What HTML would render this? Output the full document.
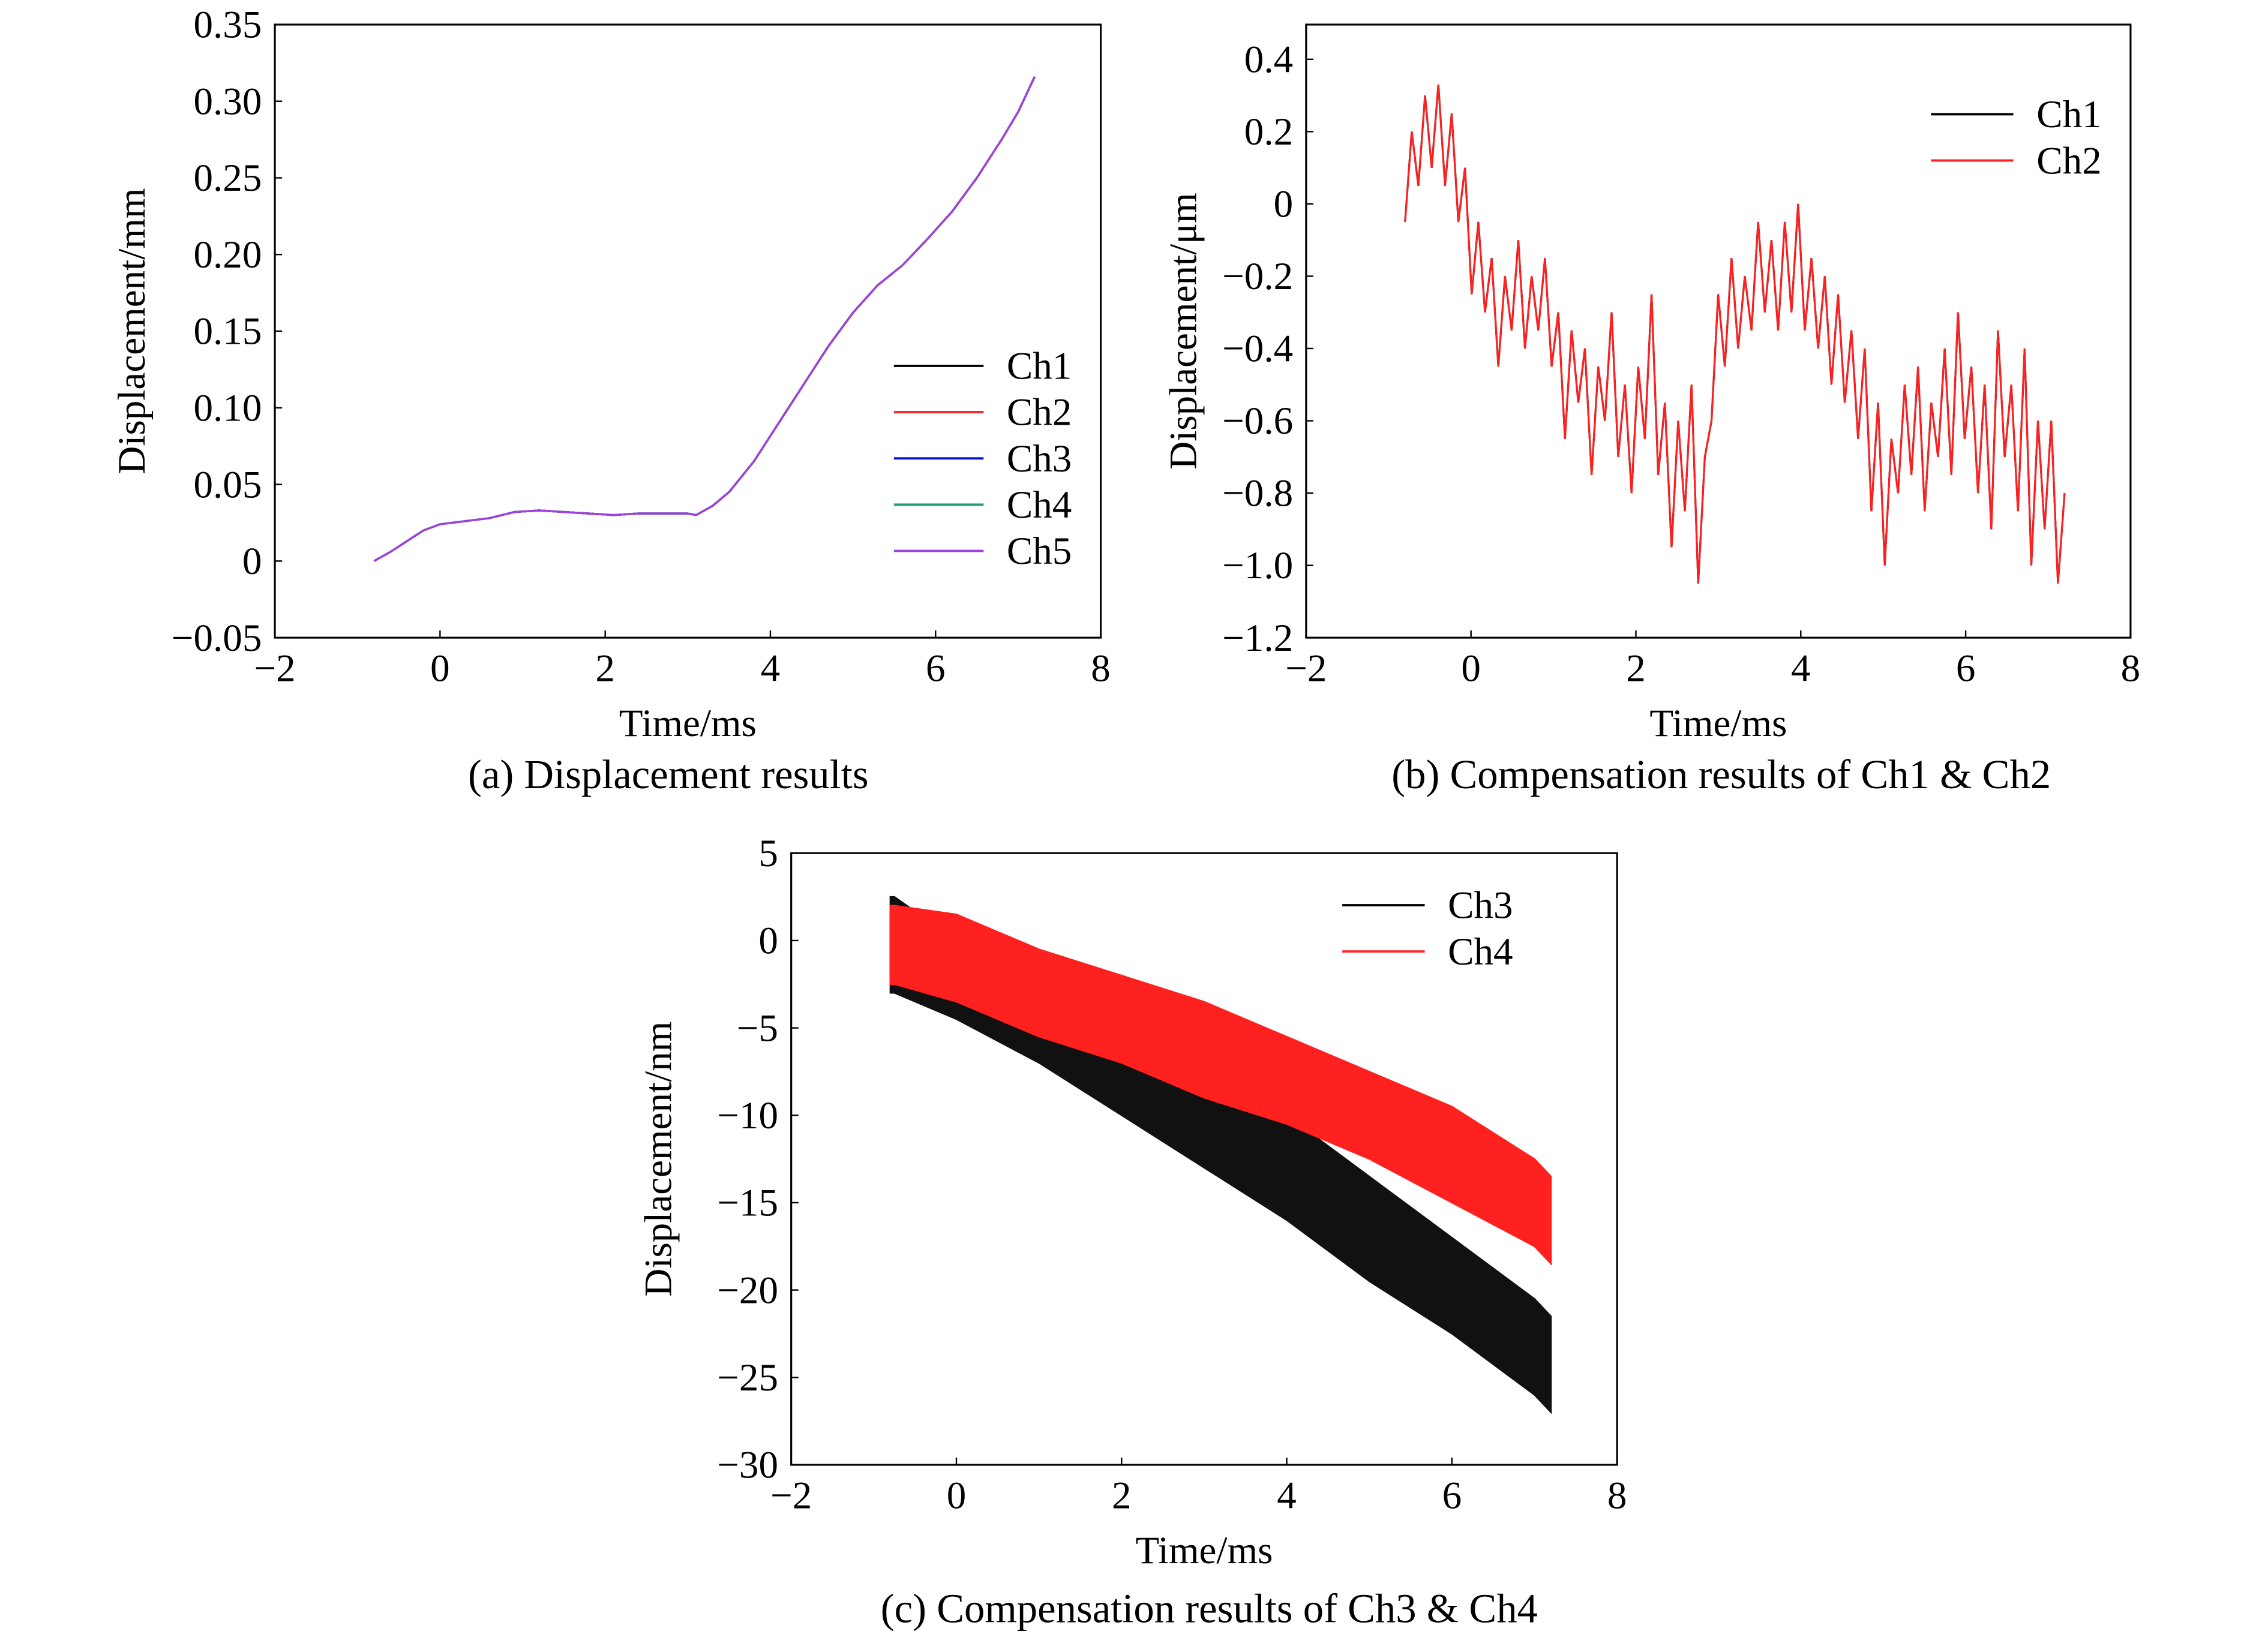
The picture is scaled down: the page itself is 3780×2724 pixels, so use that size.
<!DOCTYPE html>
<html><head><meta charset="utf-8"><style>
html,body{margin:0;padding:0;background:#fff;}
svg{display:block;font-family:"Liberation Serif",serif;}
</style></head><body>
<svg id="fig" width="3780" height="2724" viewBox="0 0 1568 1130" xmlns="http://www.w3.org/2000/svg"></svg>
<script>
// ---------- Panel (a) data ----------
const aTimes = [-0.8,-0.6,-0.4,-0.2,0,0.3,0.6,0.9,1.2,1.5,1.8,2.1,2.4,2.7,3.0,3.1,3.3,3.5,3.8,4.1,4.4,4.7,5.0,5.3,5.6,5.9,6.2,6.5,6.8,7.0,7.2];
const aValues = [0,0.006,0.013,0.02,0.024,0.026,0.028,0.032,0.033,0.032,0.031,0.030,0.031,0.031,0.031,0.030,0.036,0.045,0.065,0.09,0.115,0.14,0.162,0.18,0.193,0.21,0.228,0.25,0.275,0.293,0.316];
const aYTicks = [0.35,0.30,0.25,0.20,0.15,0.10,0.05,0,-0.05];
const aYLabels = ["0.35","0.30","0.25","0.20","0.15","0.10","0.05","0","\u22120.05"];
const xTicks = [-2,0,2,4,6,8];
const xLabels = ["\u22122","0","2","4","6","8"];
const aLegend = ["Ch1","Ch2","Ch3","Ch4","Ch5"];
const aColors = ["#000","#ff2020","#1010e0","#20a070","#a040e0"];
// ---------- Panel (b) data ----------
const bT0 = -0.8, bT1 = 7.2;
const bValues = [-0.05,0.2,0.05,0.3,0.1,0.33,0.05,0.25,-0.05,0.1,
-0.25,-0.05,-0.3,-0.15,-0.45,-0.2,-0.35,-0.1,-0.4,-0.2,-0.35,-0.15,
-0.45,-0.3,-0.65,-0.35,-0.55,-0.4,-0.75,-0.45,-0.6,-0.3,-0.7,-0.5,
-0.8,-0.45,-0.65,-0.25,-0.75,-0.55,-0.95,-0.6,-0.85,-0.5,-1.05,-0.7,
-0.6,-0.25,-0.45,-0.15,-0.4,-0.2,-0.35,-0.05,-0.3,-0.1,-0.35,-0.05,
-0.3,0.0,-0.35,-0.15,-0.4,-0.2,-0.5,-0.25,-0.55,-0.35,-0.65,-0.4,
-0.85,-0.55,-1.0,-0.65,-0.8,-0.5,-0.75,-0.45,-0.85,-0.55,-0.7,-0.4,
-0.75,-0.3,-0.65,-0.45,-0.8,-0.5,-0.9,-0.35,-0.7,-0.5,-0.85,-0.4,-1.0,-0.6,-0.9,-0.6,-1.05,-0.8];
const bYTicks = [0.4,0.2,0,-0.2,-0.4,-0.6,-0.8,-1.0,-1.2];
const bYLabels = ["0.4","0.2","0","\u22120.2","\u22120.4","\u22120.6","\u22120.8","\u22121.0","\u22121.2"];
// ---------- Panel (c) data ----------
const cTimes = [-0.8,-0.75,0,1,2,3,4,5,6,7,7.2];
const cCh3Upper = [2.5,2.5,0,-2,-5,-7.5,-10,-13.5,-17,-20.5,-21.5];
const cCh3Lower = [-3,-3,-4.5,-7,-10,-13,-16,-19.5,-22.5,-26,-27];
const cCh4Upper = [2,2,1.5,-0.5,-2,-3.5,-5.5,-7.5,-9.5,-12.5,-13.5];
const cCh4Lower = [-2.5,-2.5,-3.5,-5.5,-7,-9,-10.5,-12.5,-15,-17.5,-18.5];
const cYTicks = [5,0,-5,-10,-15,-20,-25,-30];
const cYLabels = ["5","0","\u22125","\u221210","\u221215","\u221220","\u221225","\u221230"];

const NS="http://www.w3.org/2000/svg";
const svg=document.getElementById('fig');
function mk(tag,attrs,parent,text){const e=document.createElementNS(NS,tag);for(const k in attrs)e.setAttribute(k,attrs[k]);if(text!==undefined)e.textContent=text;(parent||svg).appendChild(e);return e;}

function axes(p){
  const g=mk('g',{});
  
  
  const sx=v=>p.l+(v-p.xmin)/(p.xmax-p.xmin)*(p.r-p.l);
  const sy=v=>p.b-(v-p.ymin)/(p.ymax-p.ymin)*(p.b-p.t);
  const box=mk('rect',{x:p.l,y:p.t,width:p.r-p.l,height:p.b-p.t,fill:'none',stroke:'#000','stroke-width':1.3},g);
  
  
  xTicks.forEach((v,i)=>{const x=sx(v);
    mk('line',{x1:x,x2:x,y1:p.b,y2:p.b-5,stroke:'#000','stroke-width':1},g);
    const t=mk('text',{x:x,y:p.b+30,'text-anchor':'middle','font-size':27},g,xLabels[i]);
    
    });
  p.yt.forEach((v,i)=>{const y=sy(v);
    mk('line',{x1:p.l,x2:p.l+5,y1:y,y2:y,stroke:'#000','stroke-width':1},g);
    const t=mk('text',{x:p.l-9,y:y+9,'text-anchor':'end','font-size':27},g,p.yl[i]);
    
    });
  const xt=mk('text',{x:(p.l+p.r)/2,y:p.b+68,'text-anchor':'middle','font-size':27},g,'Time/ms');
  
  
  const yt=mk('text',{x:0,y:0,'text-anchor':'middle','font-size':27,transform:`translate(${p.ytx},${(p.t+p.b)/2}) rotate(-90)`},g,p.ytitle);
  
  
  const cap=mk('text',{x:p.capx,y:p.capy,'text-anchor':'middle','font-size':28.5},g,p.cap);
  
  
  return {g,sx,sy};
}
function legend(g,names,colors,x1,x2,y0,dy){
  names.forEach((n,i)=>{const y=y0+i*dy;
    const l=mk('line',{x1:x1,x2:x2,y1:y,y2:y,stroke:colors[i],'stroke-width':1.6},g);
    
    
    const t=mk('text',{x:x2+16,y:y+9,'font-size':27},g,n);
    
    });
}

// Panel a
const A=axes({name:'panel-a-displacement',l:190,r:761,t:17,b:441,xmin:-2,xmax:8,ymin:-0.05,ymax:0.35,yt:aYTicks,yl:aYLabels,ytitle:'Displacement/mm',ytx:100,cap:'(a) Displacement results',capx:462,capy:545});
aColors.forEach((c,k)=>{
  const d=aTimes.map((t,i)=>(i?'L':'M')+A.sx(t).toFixed(2)+','+A.sy(aValues[i]).toFixed(2)).join('');
  const p=mk('path',{d:d,fill:'none',stroke:c,'stroke-width':1.4},A.g);
  
  
});
legend(A.g,aLegend,aColors,618,680,253,32);

// Panel b
const B=axes({name:'panel-b-compensation-ch1-ch2',l:903,r:1473,t:17,b:441,xmin:-2,xmax:8,ymin:-1.2,ymax:0.496,yt:bYTicks,yl:bYLabels,ytitle:'Displacement/\u03bcm',ytx:827,cap:'(b) Compensation results of Ch1 & Ch2',capx:1190,capy:545});
const bdt=(bT1-bT0)/(bValues.length-1);
['#000','#ff2020'].forEach((c,k)=>{
  const d=bValues.map((v,i)=>(i?'L':'M')+B.sx(bT0+i*bdt).toFixed(2)+','+B.sy(v).toFixed(2)).join('');
  const p=mk('path',{d:d,fill:'none',stroke:c,'stroke-width':1.3},B.g);
  
  
});
legend(B.g,['Ch1','Ch2'],['#000','#ff2020'],1335,1392,79,32);

// Panel c
const C=axes({name:'panel-c-compensation-ch3-ch4',l:547,r:1118,t:590,b:1013,xmin:-2,xmax:8,ymin:-30,ymax:5,yt:cYTicks,yl:cYLabels,ytitle:'Displacement/nm',ytx:464,cap:'(c) Compensation results of Ch3 & Ch4',capx:836,capy:1122});
function band(up,lo,color,name){
  let d=cTimes.map((t,i)=>(i?'L':'M')+C.sx(t).toFixed(2)+','+C.sy(up[i]).toFixed(2)).join('');
  for(let i=cTimes.length-1;i>=0;i--)d+='L'+C.sx(cTimes[i]).toFixed(2)+','+C.sy(lo[i]).toFixed(2);
  const p=mk('path',{d:d+'Z',fill:color,stroke:color,'stroke-width':1},C.g);
  
  
}
band(cCh3Upper,cCh3Lower,'#111','series-ch3');
band(cCh4Upper,cCh4Lower,'#ff2020','series-ch4');
legend(C.g,['Ch3','Ch4'],['#000','#ff2020'],928,985,626,32);
</script>
</body></html>
